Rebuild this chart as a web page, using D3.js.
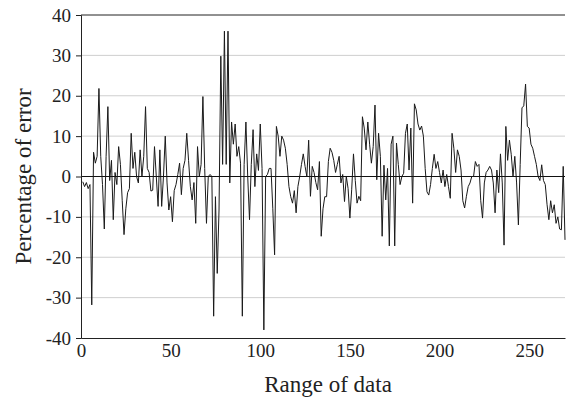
<!DOCTYPE html>
<html>
<head>
<meta charset="utf-8">
<script src="https://cdn.jsdelivr.net/npm/d3@7"></script>
<style>
  html, body { margin: 0; padding: 0; background: #fff; }
  svg { display: block; }
  text { font-family: "Liberation Serif", "DejaVu Serif", serif; fill: #222; }
</style>
</head>
<body>
<svg id="chart" width="566" height="399"></svg>
<script>
// Percentage of error for each sample, samples numbered from 1
const errorPct = [
  -1.3, -2.5, -1.5, -3, -2, -31.8, 6, 3.3, 5, 21.8,
  5, -2, -13, 5, 17.3, -1, 4, -10.7, 1, -2,
  7.4, 3, -6, -14.4, -8, -4, -3, 10.7, 2, 6,
  0, -1.6, 6.6, 0, 5, 17.3, 2, 1, -3.6, -3.4,
  7.4, 0, -7.4, 6.6, -7.4, 0, 10, -1.6, -8.3, -5,
  -11.2, -3.5, -2, 0.5, 3.3, -4.5, 2, 4, 10.7, 4,
  -2.5, -5.8, -1.5, -11.6, 7.4, 0, 3, 19.8, 2, -11.6,
  0, 0.5, 0, -34.6, -5, -24, -8.3, 29.8, 3, 36,
  3, 36, -1.6, 13.5, 8, 13, 5, 7.4, 3.3, -34.6,
  3, 13.5, 0, -10.7, 3, 11.6, -2.5, 5.6, 1.5, 13,
  2, -38, 0, 0.5, 2, 2, -8, -19.4, 12.4, 10,
  5, 10, 9, 7, 3, -2.5, -5, -6.6, -3.5, -9,
  -2.5, 0, 3, 5.6, 2.5, 0, 9, -4.9, 2.5, 1,
  -1.5, -3.3, 3.7, -14.8, -8, -5, -5, 3.7, 7, 6,
  4, 1, 3, 5, -1.6, 0.5, -6.2, 0, -3, -10.3,
  -3.3, 5.6, -1, -6.6, -4.9, -6, 14.8, 12, 6.6, 13.5,
  8, 3.3, 7.4, 17.7, -0.8, 10.7, 5, -14.8, 2.8, -5.8,
  2, -17.2, 8, 10, -17.2, 8.3, 3, -2, 0, 0.8,
  10.7, 13, 1.6, 12, -6.6, 18, 16.5, 13, 11.5, 12.5,
  10, 2, -3.8, -4.6, -2, 2, 5.5, 2, 3.7, 1,
  -1.6, 1.6, -2.5, 0.5, -2.5, -5.4, 10.7, 7, 1, 6.6,
  5, 1.6, -6, -7.8, -4.9, -2.5, -1.6, 0, 0, 3.7,
  2.5, 3, -6, -10.3, -1.6, 1, 1.6, 2.5, 1.6, -1.6,
  -9, 1.6, -4, 5.6, -1.6, -17, 12.4, 4, 9, 5.5,
  0, 5, -1.6, -12, 3, 17, 17.5, 22.9, 12.4, 12,
  8, 7, 5, 3, 0, -1, 2.9, -1, -2, -7,
  -10.7, -6, -9, -7, -11.6, -10, -13, -13.2, 2.5, -15.7
];

const xTickValues = [0, 50, 100, 150, 200, 250];
const yTickValues = [-40, -30, -20, -10, 0, 10, 20, 30, 40];
const xTitle = "Range of data";
const yTitle = "Percentage of error";

const svg = d3.select("#chart");
const margin = { left: 81, right: 1, top: 15, bottom: 61 };
const W = +svg.attr("width"), H = +svg.attr("height");

const x = d3.scaleLinear().domain([0, 270]).range([margin.left, W - margin.right]);
const y = d3.scaleLinear().domain([-40, 40]).range([H - margin.bottom, margin.top]);

// plain hyphen for negative tick labels
const fmt = d => String(d);

// horizontal gridlines
svg.append("g")
  .selectAll("line")
  .data(yTickValues.filter(v => v !== 0 && Math.abs(v) !== 40))
  .join("line")
  .attr("x1", x(0)).attr("x2", x(270))
  .attr("y1", d => y(d)).attr("y2", d => y(d))
  .attr("stroke", "#cfcfcf").attr("stroke-width", 1);

// top border
svg.append("line")
  .attr("x1", x(0)).attr("x2", x(270))
  .attr("y1", y(40)).attr("y2", y(40))
  .attr("stroke", "#222").attr("stroke-width", 1);

// the error series
const line = d3.line()
  .x((d, i) => x(i + 1))
  .y(d => y(d));

svg.append("path")
  .datum(errorPct)
  .attr("d", line)
  .attr("fill", "none")
  .attr("stroke", "#1a1a1a")
  .attr("stroke-width", 1)
  .attr("stroke-linejoin", "miter");

// zero line
svg.append("line")
  .attr("x1", x(0)).attr("x2", x(270))
  .attr("y1", y(0)).attr("y2", y(0))
  .attr("stroke", "#111").attr("stroke-width", 1);

// y axis
const yAxis = svg.append("g")
  .attr("transform", `translate(${x(0)},0)`)
  .call(d3.axisLeft(y).tickValues(yTickValues).tickSize(5).tickPadding(5).tickFormat(fmt));
yAxis.select(".domain").attr("stroke", "#222");
yAxis.selectAll(".tick line").attr("stroke", "#222");
yAxis.selectAll("text").attr("font-size", 19).attr("fill", "#222")
  .attr("font-family", "Liberation Serif, serif");

// x axis
const xAxis = svg.append("g")
  .attr("transform", `translate(0,${y(-40)})`)
  .call(d3.axisBottom(x).tickValues(xTickValues).tickSize(0).tickPadding(6).tickFormat(fmt));
xAxis.select(".domain").attr("stroke", "#222");
xAxis.selectAll("text").attr("font-size", 19).attr("fill", "#222")
  .attr("font-family", "Liberation Serif, serif");

// axis titles
svg.append("text")
  .attr("x", 328).attr("y", 392)
  .attr("text-anchor", "middle")
  .attr("font-size", 23)
  .text(xTitle);

svg.append("text")
  .attr("transform", `translate(31,${y(0)}) rotate(-90)`)
  .attr("text-anchor", "middle")
  .attr("font-size", 23)
  .text(yTitle);
</script>
</body>
</html>
